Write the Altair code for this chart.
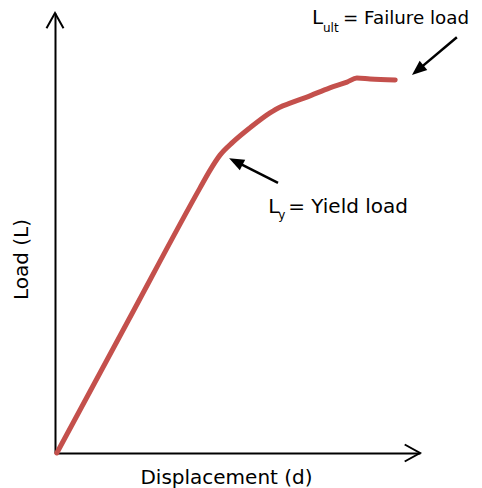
import altair as alt
import pandas as pd

# Load-displacement curve (data units: 0-100 on both axes)
disp = [0.5, 20.0, 39.7, 42.5, 45.2, 48.8, 53.4, 58.9, 61.6, 64.4, 69.0, 75.3, 80.0, 82.7, 86.3, 93.2]
load = [0, 30.0, 60.2, 64.3, 67.7, 70.7, 73.9, 77.3, 78.6, 79.5, 80.9, 83.0, 84.3, 85.2, 85.0, 84.8]

# Annotation arrows: start -> tip (data units)
arrow_names = ["failure", "yield"]
arrow_x0 = [110.1, 61.1]
arrow_y0 = [94.5, 61.4]
arrow_x1 = [97.8, 47.7]
arrow_y1 = [85.9, 67.0]
arrow_angle = [230, 297]

# Axis arrow tips
axis_tip_x = [0, 100]
axis_tip_y = [100, 0]
axis_tip_angle = [0, 90]

# Labels
label_names = ["failure", "yield"]
label_x = [70.4, 58.4]
label_y = [97.4, 54.5]
label_sub = ["ult", "y"]
label_rest = ["= Failure load", "= Yield load"]

FONT = "DejaVu Sans"
RED = "#c4504c"

curve_df = pd.DataFrame({"d": disp, "L": load})
arr_df = pd.DataFrame({"name": arrow_names, "x0": arrow_x0, "y0": arrow_y0,
                       "x1": arrow_x1, "y1": arrow_y1, "angle": arrow_angle})
arr_df["xe"] = arr_df["x1"] + (arr_df["x0"] - arr_df["x1"]) * 0.15
arr_df["ye"] = arr_df["y1"] + (arr_df["y0"] - arr_df["y1"]) * 0.15
tip_df = pd.DataFrame({"x": axis_tip_x, "y": axis_tip_y, "angle": axis_tip_angle})
lab_df = pd.DataFrame({"name": label_names, "x": label_x, "y": label_y,
                       "sub": label_sub, "rest": label_rest})

xs = alt.Scale(domain=[0, 100], nice=False, zero=False)
ys = alt.Scale(domain=[0, 100], nice=False, zero=False)

curve = alt.Chart(curve_df).mark_line(
    color=RED, strokeWidth=5, strokeCap="round", strokeJoin="round", interpolate="monotone"
).encode(
    x=alt.X("d:Q", scale=xs, axis=alt.Axis(
        title="Displacement (d)", domain=True, domainColor="black", domainWidth=2,
        ticks=False, labels=False, grid=False, titleFont=FONT, titleFontSize=20,
        titleFontWeight="normal", titleColor="black", titleX=171, titleY=30,
        titleBaseline="alphabetic", titleAlign="center")),
    y=alt.Y("L:Q", scale=ys, axis=alt.Axis(
        title="Load (L)", domain=True, domainColor="black", domainWidth=2,
        ticks=False, labels=False, grid=False, titleFont=FONT, titleFontSize=20,
        titleFontWeight="normal", titleColor="black", titleX=-28, titleY=246,
        titleAngle=-90, titleBaseline="alphabetic", titleAlign="center")),
)

shafts = alt.Chart(arr_df).mark_rule(color="black", strokeWidth=2.5).encode(
    x=alt.X("x0:Q", scale=xs), y=alt.Y("y0:Q", scale=ys),
    x2="xe:Q", y2="ye:Q",
)

heads = alt.Chart(arr_df).mark_point(
    shape="M0,0 L0.75,1.9 L-0.75,1.9 Z", filled=True, color="black", opacity=1, size=250
).encode(
    x=alt.X("x1:Q", scale=xs), y=alt.Y("y1:Q", scale=ys),
    angle=alt.Angle("angle:Q", scale=None),
)

tips = alt.Chart(tip_df).mark_point(
    shape="M-1,1.8 L0,0 L1,1.8", filled=False, color="black", opacity=1,
    size=289, strokeWidth=2, strokeJoin="miter"
).encode(
    x=alt.X("x:Q", scale=xs), y=alt.Y("y:Q", scale=ys),
    angle=alt.Angle("angle:Q", scale=None),
)

base_text = alt.Chart(lab_df).encode(x=alt.X("x:Q", scale=xs), y=alt.Y("y:Q", scale=ys))
t_L = base_text.mark_text(text="L", font=FONT, fontSize=20, align="left",
                          baseline="alphabetic", color="black")
t_sub_ult = alt.Chart(lab_df[lab_df["name"] == "failure"]).mark_text(
    font=FONT, fontSize=12, align="left", baseline="alphabetic", color="black", dx=11, dy=8
).encode(x=alt.X("x:Q", scale=xs), y=alt.Y("y:Q", scale=ys), text="sub:N")
t_sub_y = alt.Chart(lab_df[lab_df["name"] == "yield"]).mark_text(
    font=FONT, fontSize=12, align="left", baseline="alphabetic", color="black", dx=10, dy=6
).encode(x=alt.X("x:Q", scale=xs), y=alt.Y("y:Q", scale=ys), text="sub:N")
t_rest_f = alt.Chart(lab_df[lab_df["name"] == "failure"]).mark_text(
    font=FONT, fontSize=18.3, align="left", baseline="alphabetic", color="black", dx=31
).encode(x=alt.X("x:Q", scale=xs), y=alt.Y("y:Q", scale=ys), text="rest:N")
t_rest_y = alt.Chart(lab_df[lab_df["name"] == "yield"]).mark_text(
    font=FONT, fontSize=20, align="left", baseline="alphabetic", color="black", dx=20
).encode(x=alt.X("x:Q", scale=xs), y=alt.Y("y:Q", scale=ys), text="rest:N")

chart = alt.layer(curve, shafts, heads, tips, t_L, t_sub_ult, t_sub_y, t_rest_f, t_rest_y).properties(
    width=365, height=440,
    background="white",
    autosize=alt.AutoSizeParams(type="none"),
    padding={"left": 47, "top": 5, "right": 54, "bottom": 35},
).configure_view(stroke="transparent", strokeWidth=0)

chart.save("out.html", embed_options={"renderer": "svg", "actions": False})
